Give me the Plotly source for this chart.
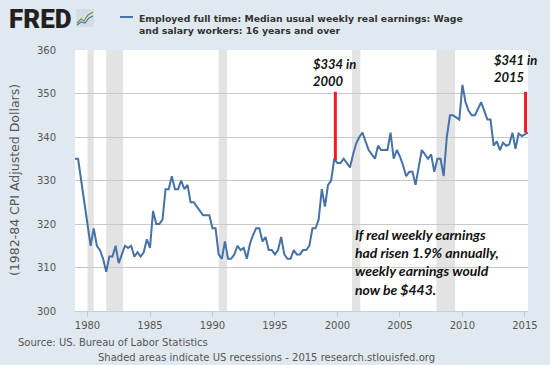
import pandas as pd
import plotly.graph_objects as go

# Quarterly data, 1979Q1 .. 2015Q2 (1982-84 CPI adjusted dollars)
start_date = "1979-01-01"
earnings = [
    335, 335, 330, 325,
    320, 315, 319, 315,
    314, 312, 309, 312.5,
    312.5, 315, 311, 313,
    315, 314.5, 315, 312.5,
    313.5, 312.5, 313.5, 316.5,
    314.5, 323, 320, 320,
    321, 328, 328, 331,
    328, 328, 330, 328,
    329, 325, 325, 324,
    323, 322, 322, 322,
    319, 319, 313, 312,
    316, 312, 312, 313,
    315, 314, 314.5, 312,
    315.5, 317.5, 319, 319,
    316, 317, 314, 314,
    313, 314, 317, 313,
    312, 312, 314, 313,
    313, 314, 314, 315,
    319, 319, 321, 328,
    324, 329, 330, 335,
    334, 334, 335, 334,
    333, 336, 338.5, 340,
    341, 339, 337, 336,
    335, 338, 337, 337,
    337, 341, 335, 337,
    335.5, 333.5, 331, 332,
    332, 329, 333, 337,
    336, 335, 336, 332,
    335, 335, 331, 340,
    345, 345, 344.5, 344,
    352, 348, 346, 345,
    345, 346.5, 348, 346,
    344, 344, 338, 339,
    337, 338.7, 338, 338.3,
    341, 337.3, 340.8, 340.2,
    340.6, 341,
]
dates = pd.date_range(start_date, periods=len(earnings), freq="QS")

recessions = [
    ("1980-01-01", "1980-07-01"),
    ("1981-07-01", "1982-11-01"),
    ("1990-07-01", "1991-03-01"),
    ("2001-03-01", "2001-11-01"),
    ("2007-12-01", "2009-06-01"),
]
tick_years = [1980, 1985, 1990, 1995, 2000, 2005, 2010, 2015]
y_ticks = [300, 310, 320, 330, 340, 350, 360]

series_name = "Employed full time: Median usual weekly real earnings: Wage<br>and salary workers: 16 years and over"
note_2000 = "$334 in<br>2000"
note_2015 = "$341 in<br>2015"
note_main = "If real weekly earnings<br>had risen 1.9% annually,<br>weekly earnings would<br>now be $443."

BG = "#e1e9f0"
LINE = "#4572a7"
W, H = 550, 365
ML, MR, MT, MB = 75, 22, 50, 54
PW, PH = W - ML - MR, H - MT - MB


def px(x):
    return (x - ML) / PW


def py(y):
    return (H - MB - y) / PH


fig = go.Figure()
fig.add_trace(go.Scatter(
    x=dates, y=earnings, mode="lines",
    line=dict(color=LINE, width=2),
    showlegend=False, hoverinfo="x+y",
))

shapes = []
for a, b in recessions:
    shapes.append(dict(type="rect", xref="x", yref="paper", x0=a, x1=b, y0=0, y1=1,
                       fillcolor="#e3e3e3", line=dict(width=0), layer="below"))
# red marker lines
shapes.append(dict(type="line", xref="x", yref="y", x0="1999-11-01", x1="1999-11-01",
                   y0=334.7, y1=350.4, line=dict(color="#ee1c25", width=3)))
shapes.append(dict(type="line", xref="x", yref="y", x0="2015-01-20", x1="2015-01-20",
                   y0=341, y1=350.4, line=dict(color="#ee1c25", width=3)))
# legend line
shapes.append(dict(type="line", xref="paper", yref="paper", x0=px(120), x1=px(133),
                   y0=py(17), y1=py(17), line=dict(color=LINE, width=2)))
# FRED icon
shapes.append(dict(type="rect", xref="paper", yref="paper", x0=px(76), x1=px(94),
                   y0=py(27), y1=py(9), fillcolor="#d5dde4", line=dict(width=0)))
shapes.append(dict(type="path", xref="paper", yref="paper",
                   path=f"M {px(77)} {py(23)} L {px(81)} {py(19)} L {px(84)} {py(21)} L {px(88)} {py(15)} L {px(93)} {py(12)}",
                   line=dict(color="#6a9a3c", width=1.2)))
shapes.append(dict(type="path", xref="paper", yref="paper",
                   path=f"M {px(77)} {py(25)} L {px(81)} {py(22)} L {px(85)} {py(23)} L {px(89)} {py(18)} L {px(93)} {py(16)}",
                   line=dict(color="#4a78a8", width=1.2)))

ann = []
ann.append(dict(text="FRED", x=px(7), y=py(19), xref="paper", yref="paper",
                xanchor="left", yanchor="middle", showarrow=False,
                font=dict(family="Roboto", size=26, color="#231f20", weight=900)))
ann.append(dict(text="<b>" + series_name + "</b>", x=px(137), y=py(24), xref="paper", yref="paper",
                xanchor="left", yanchor="middle", align="left", showarrow=False,
                font=dict(family="DejaVu Sans", size=9.3, color="#333333")))
ann.append(dict(text="(1982-84 CPI Adjusted Dollars)", x=px(14), y=py(180), xref="paper", yref="paper",
                textangle=-90, xanchor="center", yanchor="middle", showarrow=False,
                font=dict(family="DejaVu Sans", size=12.5, color="#555555")))
ann.append(dict(text="Source: US. Bureau of Labor Statistics", x=px(16), y=py(342), xref="paper", yref="paper",
                xanchor="left", yanchor="middle", showarrow=False,
                font=dict(family="DejaVu Sans", size=10, color="#555555")))
ann.append(dict(text="Shaded areas indicate US recessions - 2015 research.stlouisfed.org", x=px(96), y=py(357),
                xref="paper", yref="paper", xanchor="left", yanchor="middle", showarrow=False,
                font=dict(family="DejaVu Sans", size=10, color="#555555")))
ann.append(dict(text="<b><i>" + note_2000 + "</i></b>", x=px(311), y=py(72), xref="paper", yref="paper",
                xanchor="left", yanchor="middle", align="left", showarrow=False,
                font=dict(family="Lato", size=13, color="#111111")))
ann.append(dict(text="<b><i>" + note_2015 + "</i></b>", x=px(492), y=py(69), xref="paper", yref="paper",
                xanchor="left", yanchor="middle", align="left", showarrow=False,
                font=dict(family="Lato", size=13, color="#111111")))
ann.append(dict(text="<b><i>" + note_main + "</i></b>", x=px(353), y=py(262), xref="paper", yref="paper",
                xanchor="left", yanchor="middle", align="left", showarrow=False,
                font=dict(family="Lato", size=14, color="#111111")))

fig.update_layout(
    width=W, height=H,
    margin=dict(l=ML, r=MR, t=MT, b=MB, pad=0),
    paper_bgcolor=BG, plot_bgcolor="white",
    shapes=shapes, annotations=ann,
    showlegend=False,
    xaxis=dict(
        type="date", range=["1979-01-01", "2015-04-01"],
        tickvals=[f"{y}-01-01" for y in tick_years],
        ticktext=[str(y) for y in tick_years],
        showgrid=False, zeroline=False,
        showline=True, linecolor="#c0d0e0", linewidth=1,
        ticks="outside", ticklen=5, tickcolor="#c0d0e0",
        tickfont=dict(family="DejaVu Sans", size=10, color="#555555"),
    ),
    yaxis=dict(
        range=[300, 360], tickvals=y_ticks,
        showgrid=True, gridcolor="#c8c8c8", gridwidth=1,
        zeroline=False, showline=False, ticks="",
        ticklabelstandoff=18,
        tickfont=dict(family="DejaVu Sans", size=10, color="#555555"),
    ),
)

fig.write_html(
    "out.html",
    config={"displayModeBar": False},
    post_script="document.body.style.margin='0';document.body.style.overflow='hidden';",
)
